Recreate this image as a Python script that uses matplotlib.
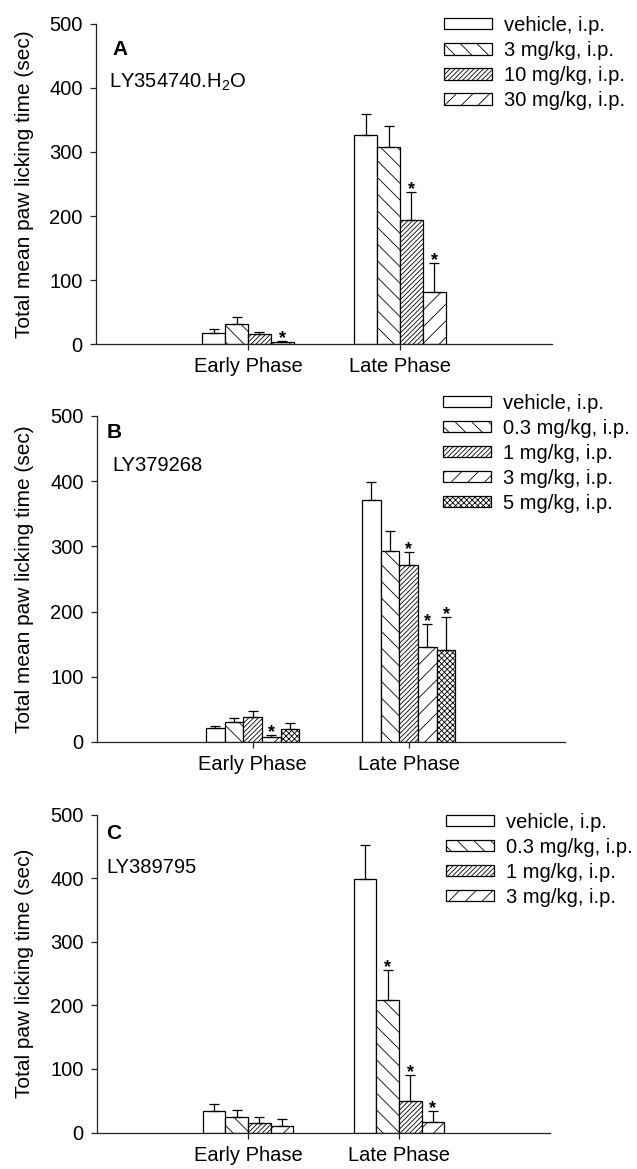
import matplotlib
matplotlib.use('Agg')
import matplotlib.pyplot as plt
from matplotlib.patches import Patch
import numpy as np

plt.rcParams['font.family'] = ['Liberation Sans', 'DejaVu Sans']
plt.rcParams['mathtext.fontset'] = 'custom'
plt.rcParams['mathtext.rm'] = 'Liberation Sans'
plt.rcParams['hatch.linewidth'] = 0.6

# ---------------- data ----------------
phases = ['Early Phase', 'Late Phase']

a_labels = ['vehicle, i.p.', '3 mg/kg, i.p.', '10 mg/kg, i.p.', '30 mg/kg, i.p.']
a_early = [18, 32, 15, 3]
a_early_err = [5, 10, 4, 2]
a_late = [326, 308, 193, 82]
a_late_err = [33, 32, 45, 44]
a_early_sig = [False, False, False, True]
a_late_sig = [False, False, True, True]

b_labels = ['vehicle, i.p.', '0.3 mg/kg, i.p.', '1 mg/kg, i.p.', '3 mg/kg, i.p.', '5 mg/kg, i.p.']
b_early = [21, 30, 39, 8, 20.5]
b_early_err = [4, 6, 9, 2, 8]
b_late = [371, 293.5, 271, 146, 140.6]
b_late_err = [27, 30.5, 20, 35.5, 51.4]
b_early_sig = [False, False, False, True, False]
b_late_sig = [False, False, True, True, True]

c_labels = ['vehicle, i.p.', '0.3 mg/kg, i.p.', '1 mg/kg, i.p.', '3 mg/kg, i.p.']
c_early = [34.6, 25, 15.7, 11]
c_early_err = [10.4, 10.7, 9.3, 11]
c_late = [399, 209, 50, 17]
c_late_err = [53, 46.5, 41, 16.6]
c_early_sig = [False, False, False, False]
c_late_sig = [False, True, True, True]

# ---------------- styles ----------------
hatches_4 = ['', '\\\\', '///////', '//']
hatches_5 = ['', '\\\\', '///////', '//', 'xxxxxx']

fig = plt.figure(figsize=(6.37, 11.69), dpi=100)

def panel(rect, labels, early, early_err, late, late_err, early_sig, late_sig,
          hatches, letter, compound, ylabel, letter_pos, comp_pos, leg_anchor):
    ax = fig.add_axes(rect)
    n = len(labels)
    w = 0.6 / n
    xg = np.arange(len(phases))
    for i in range(n):
        vals = [early[i], late[i]]
        errs = [early_err[i], late_err[i]]
        sigs = [early_sig[i], late_sig[i]]
        xs = xg + (i - (n - 1) / 2) * w
        ax.bar(xs, vals, width=w, color='white', edgecolor='black',
               linewidth=0.9, hatch=hatches[i], zorder=2)
        ax.errorbar(xs, vals, yerr=[[0, 0], errs], fmt='none', ecolor='black',
                    elinewidth=0.9, capsize=3.6, capthick=0.9, zorder=3)
        for x, v, e, s in zip(xs, vals, errs, sigs):
            if s:
                ax.annotate('*', (x, v + e), xytext=(0, -1.5), textcoords='offset points',
                            ha='center', va='baseline', fontsize=13, fontweight='bold')
    ax.set_xlim(-1, 2)
    ax.set_ylim(0, 500)
    ax.set_yticks([0, 100, 200, 300, 400, 500])
    ax.set_xticks(xg)
    ax.set_xticklabels(phases)
    for s in ['top', 'right']:
        ax.spines[s].set_visible(False)
    for s in ['left', 'bottom']:
        ax.spines[s].set_linewidth(0.9)
        ax.spines[s].set_color('#222222')
    ax.tick_params(axis='both', labelsize=14.5, width=0.9, length=4.5, color='#222222')
    ax.tick_params(axis='y', pad=5)
    ax.tick_params(axis='x', pad=5)
    ax.set_ylabel(ylabel, fontsize=15)
    left_px = rect[0] * 637
    width_px = rect[2] * 637
    ax.yaxis.set_label_coords(-(left_px - 34) / width_px, 0.5)
    ax.text(letter_pos[0], letter_pos[1], letter, transform=ax.transAxes,
            fontsize=15, fontweight='bold', ha='left', va='center')
    ax.text(comp_pos[0], comp_pos[1], compound, transform=ax.transAxes,
            fontsize=14.5, ha='left', va='center')
    handles = [Patch(facecolor='white', edgecolor='black', linewidth=0.9, hatch=h)
               for h in hatches]
    fig.legend(handles, labels, loc='upper left', bbox_to_anchor=leg_anchor,
               bbox_transform=fig.transFigure, frameon=False, fontsize=14.5,
               handlelength=2.4, handleheight=0.48, handletextpad=0.6,
               labelspacing=0.3, borderpad=0, borderaxespad=0)
    return ax

panel([0.1507, 0.7057, 0.716, 0.2738], a_labels, a_early, a_early_err, a_late, a_late_err,
      a_early_sig, a_late_sig, hatches_4, 'A', r'LY354740.H$_{\mathregular{2}}$O',
      'Total mean paw licking time (sec)', (0.037, 0.919), (0.0285, 0.819),
      (444 / 637, 0.9863))

panel([0.1518, 0.3653, 0.7347, 0.2789], b_labels, b_early, b_early_err, b_late, b_late_err,
      b_early_sig, b_late_sig, hatches_5, 'B', 'LY379268',
      'Total mean paw licking time (sec)', (0.021, 0.948), (0.033, 0.847),
      (443 / 637, 0.6631))

panel([0.1523, 0.0312, 0.711, 0.2719], c_labels, c_early, c_early_err, c_late, c_late_err,
      c_early_sig, c_late_sig, hatches_4, 'C', 'LY389795',
      'Total paw licking time (sec)', (0.021, 0.942), (0.021, 0.835),
      (446 / 637, 0.3047))

fig.savefig('out.png', dpi=100)
